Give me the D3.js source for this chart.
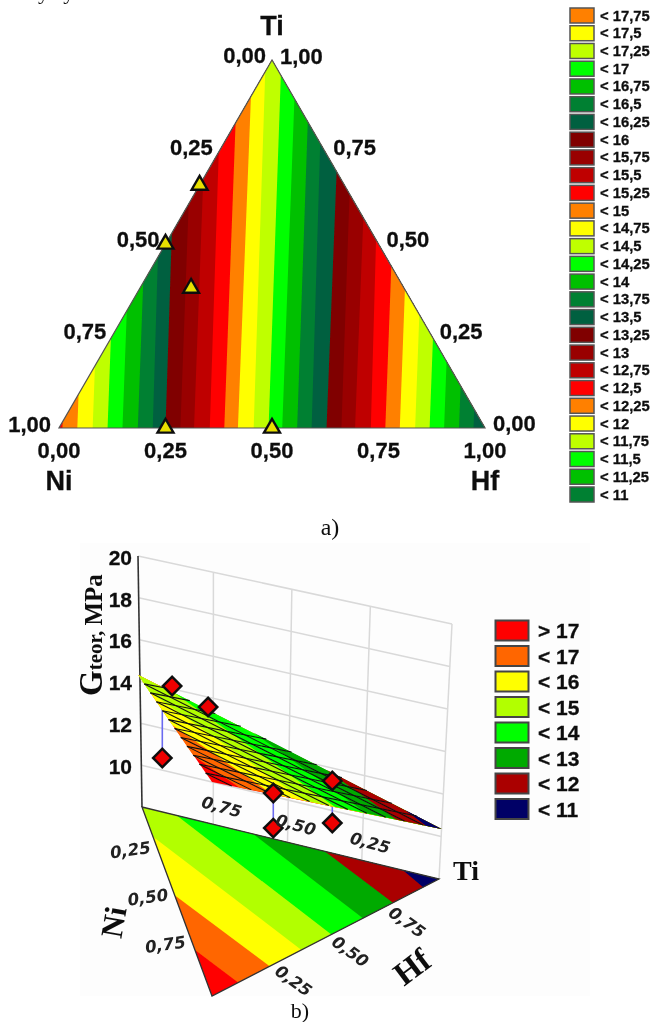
<!DOCTYPE html>
<html>
<head>
<meta charset="utf-8">
<script src="https://cdn.jsdelivr.net/npm/d3@7"></script>
<style>
	html, body { margin: 0; padding: 0; background: #fff; }
	svg { display: block; }
	.sans { font-family: "Liberation Sans", Arial, sans-serif; font-weight: bold; fill: #111; stroke: #111; stroke-width: .3; }
	.serif { font-family: "Liberation Serif", "Times New Roman", serif; fill: #111; }
	.wide { font-family: "DejaVu Sans", sans-serif; font-weight: bold; font-style: italic; fill: #222; }
</style>
</head>
<body>
<svg></svg>
<script>
// top chart: one legend row per contour level
const levelLabels = ['17,75', '17,5', '17,25', '17', '16,75', '16,5', '16,25', '16', '15,75', '15,5', '15,25', '15', '14,75', '14,5',
	'14,25', '14', '13,75', '13,5', '13,25', '13', '12,75', '12,5', '12,25', '12', '11,75', '11,5', '11,25', '11']
const levelCycle = ['#ff8000', '#ffff00', '#bfff00', '#00ff00', '#00c000', '#008030', '#006040', '#800000', '#990000', '#bf0000', '#ff0000']

// where each contour meets the base (Ti = 0) and the Ti = 0.5 row, as x fraction of the triangle
const contourBase = [.008, .043, .079, .114, .149, .185, .22, .25, .285, .317, .354, .388, .42, .457,
	.492, .524, .559, .593, .628, .663, .695, .732, .766, .8, .836, .87, .904, .939, .973]
const contourMid = [.024, .059, .095, .13, .165, .201, .233, .264, .301, .333, .368, .404, .437, .471,
	.507, .54, .574, .606, .645, .678, .712, .744, .782, .816, .852, .886, .92, .955, .989]

const ternTicks = [0, .25, .5, .75, 1]
const sampleTi = [.66, .5, .38, 0, 0]
const sampleHf = [0, 0, .12, .25, .5]

// bottom chart
const surfLabels = ['> 17', '< 17', '< 16', '< 15', '< 14', '< 13', '< 12', '< 11']
const surfColors = ['#ff0000', '#ff6600', '#ffff00', '#b2ff00', '#00ff00', '#00aa00', '#aa0000', '#000066']
// contour ends: along Ni->Hf edge, and on the far side (side: L = Ti-Ni edge as Ni share, T = Ti-Hf edge as Hf share)
const surfEdgeHf = [.115, .254, .394, .526, .665, .797, .93]
const surfFarSide = ['L', 'L', 'L', 'T', 'T', 'T', 'T']
const surfFarVal = [.757, .467, .158, .116, .374, .615, .879]
// G at the Ti, Ni and Hf corners of the fitted plane
const cornerG = [14.14, 17.95, 10.33]
const gTicks = [10, 12, 14, 16, 18, 20]
const tiGrid = [.76, .51, .26]
const dropTi = [.71, .57, .38, 0, 0]
const dropHf = [0, 0, .1, .27, .53]
const diamonds = [[12.83], [17.41], [17.56], [15.97, 14.34], [15.12, 13.16]]

const width = 650, height = 1022

let svg = d3.select('svg').attr('width', width).attr('height', height)

let defs = svg.append('defs')
defs.append('filter').attr('id', 'soft').attr('x', '-5%').attr('y', '-5%').attr('width', '110%').attr('height', '110%')
.append('feGaussianBlur').attr('stdDeviation', .6)

let root = svg.append('g').attr('filter', 'url(#soft)')

root.append('text').attr('class', 'serif')
.attr('x', 21).attr('y', -1).attr('font-size', 22)
.text('ary system')

// ---- a) ternary contour map ----
const upper = root.append('g')

const scX = d3.scaleLinear().domain([0, 1]).range([59, 485])
const scTi = d3.scaleLinear().domain([0, 1]).range([428, 60])
const ternX = (hf, ti) => scX(hf + ti / 2)

const triPath = 'M' + [[ternX(0, 1), scTi(1)], [ternX(0, 0), scTi(0)], [ternX(1, 0), scTi(0)]].join('L') + 'Z'

defs.append('clipPath').attr('id', 'triClip').append('path').attr('d', triPath)

let bands = upper.append('g').attr('clip-path', 'url(#triClip)')

bands.append('path').attr('d', triPath).attr('fill', '#ff0000')

// paint from left to right, each band covering everything to its right
contourBase.forEach((b, i) => {
	let lean = d3.scaleLinear().domain([0, .5]).range([b, contourMid[i]])
	let edge = [[scX(lean(0)), scTi(0)], [scX(lean(1)), scTi(1)], [scX(1.1), scTi(1)], [scX(1.1), scTi(0)]]
	bands.append('path')
	.attr('d', 'M' + edge.join('L') + 'Z')
	.attr('fill', i == contourBase.length - 1 ? levelCycle[6] : levelCycle[i % levelCycle.length])
})

upper.append('path').attr('d', triPath).attr('fill', 'none').attr('stroke', '#555').attr('stroke-width', 1.2)

const tickFont = 22
const fmt = d => d3.format('.2f')(d).replace('.', ',')

upper.selectAll('.leftTick').data(ternTicks).enter().append('text')
.attr('class', 'sans').attr('font-size', tickFont).attr('text-anchor', 'end')
.attr('x', d => ternX(0, 1 - d) - (d == 1 ? 8 : 6))
.attr('y', d => scTi(1 - d) + (d == 1 ? 4 : 3))
.text(fmt)

upper.selectAll('.rightTick').data(ternTicks).enter().append('text')
.attr('class', 'sans').attr('font-size', tickFont).attr('text-anchor', 'start')
.attr('x', d => ternX(1 - d, d) + 8)
.attr('y', d => scTi(d) + (d == 1 ? 4 : 3))
.text(fmt)

upper.selectAll('.baseTick').data(ternTicks).enter().append('text')
.attr('class', 'sans').attr('font-size', tickFont).attr('text-anchor', 'middle')
.attr('x', d => scX(d)).attr('y', scTi(0) + 30)
.text(fmt)

upper.append('text').attr('class', 'sans').attr('font-size', 27).attr('text-anchor', 'middle')
.attr('x', ternX(0, 1)).attr('y', scTi(1) - 25).text('Ti')
upper.append('text').attr('class', 'sans').attr('font-size', 27).attr('text-anchor', 'middle')
.attr('x', scX(0)).attr('y', scTi(0) + 62).text('Ni')
upper.append('text').attr('class', 'sans').attr('font-size', 27).attr('text-anchor', 'middle')
.attr('x', scX(1)).attr('y', scTi(0) + 62).text('Hf')

upper.selectAll('.sample').data(sampleTi).enter().append('path')
.attr('d', d3.symbol(d3.symbolTriangle, 110))
.attr('transform', (d, i) => `translate(${ternX(sampleHf[i], d)}, ${scTi(d)})`)
.attr('fill', '#e8e000').attr('stroke', '#111').attr('stroke-width', 2.4)

// legend a)
let legA = upper.append('g')
let rowA = d3.scalePoint().domain(levelLabels).range([15.5, 494.5])
legA.selectAll('rect').data(levelLabels).enter().append('rect')
.attr('x', 570).attr('width', 24).attr('y', d => rowA(d) - 7.5).attr('height', 15)
.attr('fill', (d, i) => levelCycle[i % levelCycle.length])
.attr('stroke', '#555').attr('stroke-width', 1.5)
legA.selectAll('text').data(levelLabels).enter().append('text')
.attr('class', 'sans').attr('font-size', 14.8)
.attr('x', 600).attr('y', d => rowA(d) + 5)
.text(d => '< ' + d)

root.append('text').attr('class', 'serif').attr('font-size', 24).attr('text-anchor', 'middle')
.attr('x', 330).attr('y', 535).text('a)')

// ---- b) 3D surface ----
const low = root.append('g')

low.append('rect').attr('x', 80).attr('y', 543).attr('width', 510).attr('height', 453).attr('fill', '#fdfdfd')

const cornerTi = [142, 807], cornerNi = [212, 996], cornerHf = [439, 879]
const wallLeftY = d3.scaleLinear().domain([8, 20]).range([807, 556])
const wallRightY = d3.scaleLinear().domain([8, 20]).range([879, 624])
const wallLeftX = d3.scaleLinear().domain([8, 20]).range([142, 138])
const wallRightX = d3.scaleLinear().domain([8, 20]).range([439, 452])
const pxPerG = 21.5

const floorPt = (ni, hf, ti) => [
	ti * cornerTi[0] + ni * cornerNi[0] + hf * cornerHf[0],
	ti * cornerTi[1] + ni * cornerNi[1] + hf * cornerHf[1]
]
const planeG = (ni, hf, ti) => ti * cornerG[0] + ni * cornerG[1] + hf * cornerG[2]
const liftPt = (ni, hf, ti, g) => {
	let p = floorPt(ni, hf, ti)
	return [p[0], p[1] - (g - 8) * pxPerG]
}
// the surface follows the lean of the walls a little
const surfPt = (ni, hf, ti) => {
	let g = planeG(ni, hf, ti)
	let p = liftPt(ni, hf, ti, g)
	return [p[0] + (g - 8) * (ti * -.6 + hf * 1.08), p[1]]
}

// back wall grid
let wall = low.append('g').attr('stroke', '#d9d9d9').attr('stroke-width', 1.5).attr('fill', 'none')
wall.selectAll('.hline').data(gTicks).enter().append('line')
.attr('x1', d => wallLeftX(d)).attr('y1', d => wallLeftY(d))
.attr('x2', d => wallRightX(d)).attr('y2', d => wallRightY(d))
wall.selectAll('.vline').data(tiGrid).enter().append('line')
.attr('x1', d => d3.interpolate(wallLeftX(20), wallRightX(20))(1 - d))
.attr('y1', d => d3.interpolate(wallLeftY(20), wallRightY(20))(1 - d))
.attr('x2', d => d3.interpolate(wallLeftX(8), wallRightX(8))(1 - d))
.attr('y2', d => d3.interpolate(wallLeftY(8), wallRightY(8))(1 - d))
wall.append('line')
.attr('x1', wallRightX(20)).attr('y1', wallRightY(20))
.attr('x2', wallRightX(8)).attr('y2', wallRightY(8))

// z axis
let axisG = low.append('g').attr('transform', 'translate(136, 1.5)')
.call(d3.axisLeft(wallLeftY).tickValues(gTicks).tickFormat(d3.format('d')).tickSize(0).tickPadding(4))
axisG.select('.domain').remove()
axisG.selectAll('text').attr('font-size', 21).attr('class', 'sans').attr('fill', '#222')

low.append('line').attr('stroke', '#333').attr('stroke-width', 1.6)
.attr('x1', wallLeftX(20)).attr('y1', wallLeftY(20))
.attr('x2', wallLeftX(8)).attr('y2', wallLeftY(8))

// contour bands, same recipe for the floor and for the lifted surface
function bandPolys(project) {
	let full = [project(0, 0, 1), project(1, 0, 0), project(0, 1, 0)]
	let out = [{ pts: full, color: surfColors[0] }]
	surfEdgeHf.forEach((t, i) => {
		let v = surfFarVal[i]
		let near = project(1 - t, t, 0)
		let pts = surfFarSide[i] == 'L'
			? [near, project(0, 1, 0), project(0, 0, 1), project(v, 0, 1 - v)]
			: [near, project(0, 1, 0), project(0, v, 1 - v)]
		out.push({ pts, color: surfColors[i + 1] })
	})
	return out
}

function drawBands(project) {
	let g = low.append('g')
	g.selectAll('path').data(bandPolys(project)).enter().append('path')
	.attr('d', d => 'M' + d.pts.join('L') + 'Z')
	.attr('fill', d => d.color)
	return g
}

// floor
drawBands(floorPt)
let floorEdge = [floorPt(0, 0, 1), floorPt(1, 0, 0), floorPt(0, 1, 0)]
low.append('path').attr('d', 'M' + floorEdge.join('L') + 'Z')
.attr('fill', 'none').attr('stroke', '#333').attr('stroke-width', 1.3)

// drop lines behind the surface
let dropG = low.append('g').attr('stroke', '#6a6af0').attr('stroke-width', 1.6)
diamonds.forEach((vals, i) => {
	let ti = dropTi[i], hf = dropHf[i], ni = 1 - ti - hf
	let ys = vals.map(v => liftPt(ni, hf, ti, v)[1]).concat([surfPt(ni, hf, ti)[1]])
	let x = floorPt(ni, hf, ti)[0]
	dropG.append('line').attr('x1', x).attr('x2', x).attr('y1', d3.min(ys)).attr('y2', d3.max(ys))
})

// surface
drawBands(surfPt)

// mesh of the surface
const meshSteps = d3.range(1, 12).map(d => d / 12)
let mesh = low.append('g').attr('stroke', '#111').attr('stroke-width', 1.1).attr('fill', 'none')
meshSteps.forEach(s => {
	// constant Ni and constant Ti
	mesh.append('path').attr('d', 'M' + [surfPt(s, 0, 1 - s), surfPt(s, 1 - s, 0)].join('L'))
	mesh.append('path').attr('d', 'M' + [surfPt(0, 1 - s, s), surfPt(1 - s, 0, s)].join('L'))
})

// diamonds
let diamondPts = []
diamonds.forEach((vals, i) => vals.forEach(v => diamondPts.push(liftPt(1 - dropTi[i] - dropHf[i], dropHf[i], dropTi[i], v))))
low.selectAll('.diamond').data(diamondPts).enter().append('rect')
.attr('x', -6.5).attr('y', -6.5).attr('width', 13).attr('height', 13)
.attr('transform', d => `translate(${d[0]}, ${d[1]}) rotate(45)`)
.attr('fill', '#ee0000').attr('stroke', '#111').attr('stroke-width', 2.5)

// floor tick labels
const ternInner = [.25, .5, .75]
const rotLabel = (sel, pos, dx, dy, angle) => sel.append('g').selectAll('text').data(ternInner).enter().append('text')
.attr('class', 'wide').attr('font-size', 16.5).attr('text-anchor', 'middle').attr('dominant-baseline', 'middle')
.attr('transform', d => {
	let p = pos(d)
	return `translate(${p[0] + dx}, ${p[1] + dy}) rotate(${angle})`
})
.text(fmt)

rotLabel(low, d => floorPt(0, 1 - d, d), 5, -17, 15)
rotLabel(low, d => floorPt(d, 0, 1 - d), -29, -3, -8)
rotLabel(low, d => floorPt(1 - d, d, 0), 24, 15, 36)

// axis names of the surface plot
low.append('text').attr('class', 'serif').attr('font-weight', 'bold').attr('font-size', 28)
.attr('x', 453).attr('y', 880).text('Ti')
low.append('text').attr('class', 'serif').attr('font-weight', 'bold').attr('font-size', 33).attr('text-anchor', 'middle')
.attr('transform', 'translate(418.6, 975.8) rotate(-37)').text('Hf')
low.append('text').attr('class', 'serif').attr('font-weight', 'bold').attr('font-size', 31).attr('text-anchor', 'middle')
.attr('transform', 'translate(124, 924) rotate(-80)').text('Ni')

let yTitle = low.append('text').attr('class', 'serif').attr('font-weight', 'bold')
.attr('transform', 'translate(102, 696) rotate(-90)')
yTitle.append('tspan').attr('font-size', 33).text('G')
yTitle.append('tspan').attr('font-size', 21).text('teor, ')
yTitle.append('tspan').attr('font-size', 25).text('MPa')

// legend b)
let rowB = d3.scalePoint().domain(surfLabels).range([630.5, 809])
low.selectAll('.legB').data(surfLabels).enter().append('rect')
.attr('x', 495.5).attr('width', 33).attr('y', d => rowB(d) - 10).attr('height', 20)
.attr('fill', (d, i) => surfColors[i]).attr('stroke', '#444').attr('stroke-width', 2)
low.selectAll('.legBt').data(surfLabels).enter().append('text')
.attr('class', 'sans').attr('font-size', 21)
.attr('x', 538).attr('y', d => rowB(d) + 7.5)
.text(d => d)

root.append('text').attr('class', 'serif').attr('font-size', 22).attr('text-anchor', 'middle')
.attr('x', 300).attr('y', 1018).text('b)')
</script>
</body>
</html>
